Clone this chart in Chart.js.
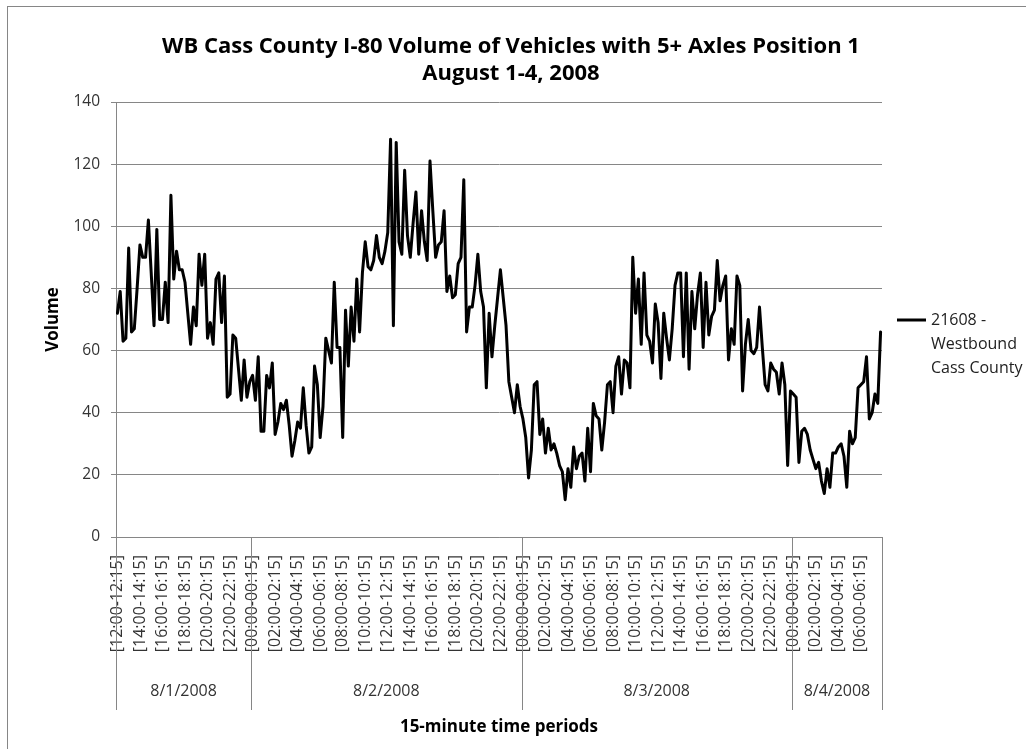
<!DOCTYPE html>
<html>
<head>
<meta charset="utf-8">
<title>WB Cass County I-80 Volume</title>
<script src="https://cdn.jsdelivr.net/npm/chart.js@4.4.1/dist/chart.umd.min.js"></script>
<style>
  html, body { margin: 0; padding: 0; background: #fff; }
  #wrap { width: 1026px; height: 749px; }
</style>
</head>
<body>
<div id="wrap"><canvas id="volChart" width="1026" height="749"></canvas></div>
<script>
// Chart text
const chartTitle = ["WB Cass County I-80 Volume of Vehicles with 5+ Axles Position 1", "August 1-4, 2008"];
const seriesName = "21608 - Westbound Cass County";
const yTitle = "Volume";
const xTitle = "15-minute time periods";

// Lower axis row: the days, and the hour of the first period shown for each
const days = ["8/1/2008", "8/2/2008", "8/3/2008", "8/4/2008"];
const dayStartHour = [12, 0, 0, 0];

// 15-minute volumes, one array per day
const vol0801 = [
  72, 79, 63, 64, 93, 66, 67, 80, 94, 90,
  90, 102, 85, 68, 99, 70, 70, 82, 69, 110,
  83, 92, 86, 86, 82, 72, 62, 74, 68, 91,
  81, 91, 64, 69, 62, 83, 85, 69, 84, 45,
  46, 65, 64, 54, 44, 57, 45, 50
];
const vol0802 = [
  52, 44, 58, 34, 34, 52, 48, 56, 33, 37,
  43, 41, 44, 36, 26, 31, 37, 35, 48, 36,
  27, 29, 55, 49, 32, 42, 64, 60, 56, 82,
  61, 61, 32, 73, 55, 74, 63, 83, 66, 85,
  95, 87, 86, 89, 97, 90, 88, 92, 98, 128,
  68, 127, 95, 91, 118, 97, 90, 101, 111, 91,
  105, 95, 89, 121, 105, 90, 94, 95, 105, 79,
  84, 77, 78, 88, 90, 115, 66, 74, 74, 81,
  91, 79, 74, 48, 72, 58, 68, 77, 86, 77,
  68, 50, 45, 40, 49, 42
];
const vol0803 = [
  38, 32, 19, 28, 49, 50, 33, 38, 27, 35,
  28, 30, 27, 23, 21, 12, 22, 16, 29, 22,
  26, 27, 18, 35, 21, 43, 39, 38, 28, 37,
  49, 50, 40, 55, 58, 46, 57, 56, 48, 90,
  72, 83, 62, 85, 65, 63, 56, 75, 69, 51,
  72, 64, 57, 67, 81, 85, 85, 58, 85, 54,
  79, 67, 78, 85, 61, 82, 65, 71, 73, 89,
  76, 81, 84, 57, 67, 62, 84, 81, 47, 62,
  70, 60, 59, 61, 74, 61, 49, 47, 56, 54,
  53, 46, 56, 49, 23, 47
];
const vol0804 = [
  46, 45, 24, 34, 35, 33, 28, 25, 22, 24,
  18, 14, 22, 16, 27, 27, 29, 30, 26, 16,
  34, 30, 32, 48, 49, 50, 58, 38, 40, 46,
  43, 66
];
const dayVolumes = [vol0801, vol0802, vol0803, vol0804];

// y axis range
const yMin = 0;
const yMax = 140;
const yStep = 20;

// Build the period labels like "[12:00-12:15]"
function pad2(n) {
  return String(n).padStart(2, "0");
}

function periodLabel(slot) {
  let h = Math.floor(slot / 4) % 24;
  let m = (slot % 4) * 15;
  let h2 = m === 45 ? (h + 1) % 24 : h;
  let m2 = (m + 15) % 60;
  return "[" + pad2(h) + ":" + pad2(m) + "-" + pad2(h2) + ":" + pad2(m2) + "]";
}

let periodLabels = [];
let volumes = [];
let dayBounds = [0];
for (let d = 0; d < days.length; d++) {
  let vals = dayVolumes[d];
  for (let k = 0; k < vals.length; k++) {
    periodLabels.push(periodLabel(dayStartHour[d] * 4 + k));
    volumes.push(vals[k]);
  }
  dayBounds.push(volumes.length);
}

const FONT = "'Open Sans', sans-serif";
const GRID = "#868686";
Chart.defaults.font.family = FONT;

// Draws the outer frame, the day row, the title and the legend
const excelBits = {
  id: "excelBits",
  beforeDraw(chart) {
    const ctx = chart.ctx;
    ctx.save();
    ctx.strokeStyle = GRID;
    ctx.lineWidth = 1;
    ctx.strokeRect(7.5, 6.5, 1100, 800);
    ctx.restore();
  },
  afterDraw(chart) {
    const ctx = chart.ctx;
    const xs = chart.scales.x;
    const area = chart.chartArea;
    ctx.save();

    // day dividers and day names
    ctx.strokeStyle = GRID;
    ctx.lineWidth = 1;
    for (let b of dayBounds) {
      let px = Math.round(xs.getPixelForValue(b - 0.5)) + 0.5;
      ctx.beginPath();
      ctx.moveTo(px, area.bottom);
      ctx.lineTo(px, 710);
      ctx.stroke();
    }
    ctx.fillStyle = "#333";
    ctx.font = "16px " + FONT;
    ctx.textAlign = "center";
    ctx.textBaseline = "middle";
    for (let d = 0; d < days.length; d++) {
      let a = xs.getPixelForValue(dayBounds[d] - 0.5);
      let b = xs.getPixelForValue(dayBounds[d + 1] - 0.5);
      ctx.fillText(days[d], (a + b) / 2, 691);
    }

    // title
    ctx.fillStyle = "#000";
    ctx.font = "bold 22px " + FONT;
    ctx.textBaseline = "alphabetic";
    ctx.fillText(chartTitle[0], 511, 53);
    ctx.fillText(chartTitle[1], 511, 80);

    // legend, wrapped like the original
    const ds = chart.data.datasets[0];
    ctx.strokeStyle = ds.borderColor;
    ctx.lineWidth = ds.borderWidth;
    ctx.beginPath();
    ctx.moveTo(897, 320);
    ctx.lineTo(926, 320);
    ctx.stroke();
    ctx.fillStyle = "#222";
    ctx.font = "16px " + FONT;
    ctx.textAlign = "left";
    ctx.textBaseline = "middle";
    let words = ds.label.split(" ");
    let lines = [];
    let cur = "";
    for (let w of words) {
      let test = cur ? cur + " " + w : w;
      if (cur && ctx.measureText(test).width > 100) {
        lines.push(cur);
        cur = w;
      } else {
        cur = test;
      }
    }
    lines.push(cur);
    lines.forEach((t, i) => ctx.fillText(t, 931, 320 + i * 24));
    ctx.restore();
  }
};

new Chart(document.getElementById("volChart"), {
  type: "line",
  data: {
    labels: periodLabels,
    datasets: [
      {
        label: seriesName,
        data: volumes,
        borderColor: "#000000",
        borderWidth: 3,
        borderJoinStyle: "round",
        borderCapStyle: "round",
        pointRadius: 0,
        tension: 0,
        fill: false,
      },
    ],
  },
  options: {
    responsive: false,
    animation: false,
    layout: { padding: { top: 102, right: 144, bottom: 0, left: 30 } },
    plugins: {
      legend: { display: false },
      title: { display: false },
      tooltip: { enabled: false },
    },
    scales: {
      x: {
        type: "category",
        offset: true,
        grid: { display: false, drawTicks: false },
        border: { display: true, color: GRID, width: 1 },
        ticks: {
          autoSkip: false,
          minRotation: 90,
          maxRotation: 90,
          padding: 18,
          color: "#333",
          font: { size: 16 },
          callback: function (value, index) {
            return index % 8 === 0 ? this.getLabelForValue(value) : "";
          },
        },
        title: {
          display: true,
          text: xTitle,
          color: "#000",
          font: { size: 17, weight: "bold" },
          padding: { top: 0, bottom: 12 },
        },
        afterFit: (scale) => {
          scale.height = 212;
        },
      },
      y: {
        min: yMin,
        max: yMax,
        grid: { color: GRID, tickLength: 5, drawTicks: true },
        border: { display: true, color: GRID, width: 1 },
        ticks: { stepSize: yStep, padding: 11, color: "#333", font: { size: 15.5 } },
        title: {
          display: true,
          text: yTitle,
          color: "#000",
          font: { size: 17, weight: "bold" },
          padding: { top: 13, bottom: 0 },
        },
        afterFit: (scale) => {
          scale.width = 86;
        },
      },
    },
  },
  plugins: [excelBits],
});
</script>
</body>
</html>
